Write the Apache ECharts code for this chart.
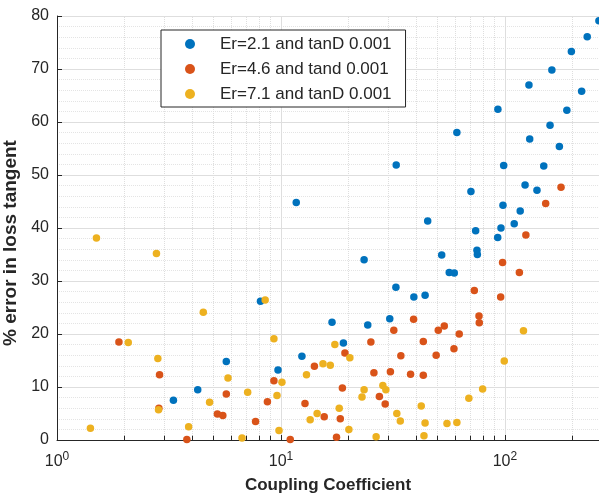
<!DOCTYPE html>
<html>
<head>
<meta charset="utf-8">
<script src="https://cdn.jsdelivr.net/npm/echarts@6/dist/echarts.min.js"></script>
<style>
  html, body { margin: 0; padding: 0; background: #fff; }
  #main { width: 599px; height: 498px; }
</style>
</head>
<body>
<div id="main"></div>
<script>
// [coupling coefficient, % error]
var er21 = [
    [262.8, 79.1], [233, 76.1], [198, 73.3], [162, 69.8], [128, 67.0], [220, 65.8],
    [93, 62.4], [189, 62.2], [159, 59.4], [129, 56.8], [175, 55.4], [61, 58.0],
    [98.7, 51.8], [149, 51.7], [123, 48.1], [70.5, 46.9], [139, 47.1], [98, 44.3],
    [117, 43.2], [45.2, 41.3], [110, 40.8], [96, 40.0], [74, 39.5], [92.8, 38.2],
    [75, 35.8], [75.3, 35.0], [11.7, 44.8], [32.7, 51.9], [23.5, 34.0], [52.2, 34.9],
    [56.4, 31.6], [59.4, 31.5], [32.6, 28.8], [39.2, 27.0], [44, 27.3], [24.4, 21.7],
    [30.6, 22.9], [19.0, 18.3], [16.9, 22.2], [8.1, 26.2], [12.4, 15.8], [5.7, 14.8],
    [9.7, 13.2], [4.25, 9.5], [3.31, 7.5]
];
var er46 = [
    [178, 47.7], [152, 44.6], [124, 38.7], [97.6, 33.5], [116, 31.6], [73, 28.2],
    [95.7, 27.0], [76.6, 23.4], [76.8, 22.1], [39.1, 22.8], [31.9, 20.7], [50.4, 20.7],
    [53.6, 21.5], [62.5, 20.0], [25.2, 18.5], [43.2, 18.6], [59.2, 17.2], [49.3, 16.0],
    [34.3, 15.9], [19.3, 16.4], [26.0, 12.7], [30.8, 12.9], [37.9, 12.4], [43.2, 12.2],
    [18.8, 9.8], [27.5, 8.2], [29.2, 6.8], [18.4, 4.0], [17.7, 0.5], [14.1, 13.9],
    [9.3, 11.2], [5.7, 8.7], [8.7, 7.2], [12.8, 6.9], [5.2, 4.9], [5.5, 4.6],
    [15.6, 4.4], [7.7, 3.5], [11.0, 0.1], [1.89, 18.5], [2.87, 12.3], [2.85, 6.0],
    [3.8, 0.1]
];
var er71 = [
    [121, 20.6], [99.3, 14.9], [79.5, 9.6], [69, 7.9], [20.3, 15.5], [23.5, 9.5],
    [23.0, 8.1], [28.5, 10.3], [29.4, 9.5], [42.3, 6.4], [18.2, 6.0], [32.9, 5.0],
    [34.1, 3.6], [44, 3.2], [55.1, 3.1], [61, 3.3], [20.1, 2.0], [26.6, 0.6],
    [43.5, 0.8], [4.5, 24.1], [8.5, 26.4], [9.3, 19.1], [17.4, 18.0], [15.4, 14.4],
    [16.6, 14.1], [13.0, 12.3], [5.8, 11.7], [10.1, 10.9], [7.1, 9.0], [9.6, 8.4],
    [4.8, 7.1], [14.5, 5.0], [13.5, 3.8], [9.8, 1.8], [6.7, 0.4], [1.5, 38.1],
    [2.78, 35.2], [2.08, 18.4], [2.82, 15.4], [2.84, 5.7], [1.41, 2.2], [3.87, 2.5]
];
var seriesNames = ['Er=2.1 and tanD 0.001', 'Er=4.6 and tand 0.001', 'Er=7.1 and tanD 0.001'];
var xMinorTicks = [2, 3, 4, 5, 6, 7, 8, 9, 20, 30, 40, 50, 60, 70, 80, 90, 200];

var colors = ['#0072BD', '#D95319', '#EDB120'];
var txt = '#262626';
var font = '"Liberation Sans", Arial, sans-serif';

var myChart = echarts.init(document.getElementById('main'));

// dotted minor grid lines and short inner minor ticks on the log axis
var minorGrid = xMinorTicks.map(function (v) {
    return { xAxis: v };
});
var minorTicks = xMinorTicks.map(function (v) {
    return [{ coord: [v, 0] }, { coord: [v, 0.8] }];
});

var option = {
    animation: false,
    backgroundColor: '#fff',
    textStyle: { fontFamily: font },
    color: colors,
    grid: { left: 57, right: 0, top: 16, bottom: 58, containLabel: false, outerBoundsMode: 'none' },
    legend: {
        data: seriesNames,
        orient: 'vertical',
        left: 161,
        top: 30,
        icon: 'circle',
        itemWidth: 10,
        itemHeight: 10,
        itemGap: 7,
        padding: [5, 14, 4, 24],
        backgroundColor: '#fff',
        borderColor: txt,
        borderWidth: 1,
        borderRadius: 0,
        textStyle: { fontSize: 17, color: txt, lineHeight: 18, padding: [0, 0, 0, 20], fontFamily: font }
    },
    xAxis: {
        type: 'log',
        logBase: 10,
        min: 1,
        max: 263,
        name: 'Coupling Coefficient',
        nameLocation: 'middle',
        nameGap: 37,
        nameTextStyle: { fontSize: 17, fontWeight: 'bold', color: txt, fontFamily: font },
        axisLine: { show: true, onZero: false, lineStyle: { color: txt, width: 1 } },
        axisTick: { show: true, inside: true, length: 5, lineStyle: { color: txt } },
        axisLabel: {
            margin: 11,
            showMaxLabel: false,
            formatter: function (v) {
                var e = Math.round(Math.log10(v));
                if (Math.abs(Math.pow(10, e) - v) > 1e-6) return '';
                return '{b|10}{s|' + e + '}';
            },
            rich: {
                b: { fontSize: 16, color: txt, fontFamily: font },
                s: { fontSize: 12, color: txt, fontFamily: font, padding: [0, 0, 9, 0] }
            }
        },
        splitLine: { show: true, lineStyle: { color: '#dedede', width: 1 } }
    },
    yAxis: {
        type: 'value',
        min: 0,
        max: 80,
        interval: 10,
        name: '% error in loss tangent',
        nameLocation: 'middle',
        nameGap: 27,
        nameRotate: 90,
        nameTextStyle: {
            fontSize: 19, fontWeight: 'bold', color: txt, fontFamily: font,
            padding: [0, 30, 0, 0]
        },
        axisLine: { show: true, lineStyle: { color: txt, width: 1 } },
        axisTick: { show: true, inside: true, length: 5, lineStyle: { color: txt } },
        axisLabel: { fontSize: 16, color: txt, margin: 8, fontFamily: font },
        splitLine: { show: true, lineStyle: { color: '#dedede', width: 1 } },
        minorTick: { show: false, splitNumber: 5 },
        minorSplitLine: { show: true, lineStyle: { color: '#e4e4e4', type: 'dotted', width: 1 } }
    },
    series: [
        {
            name: 'minor',
            type: 'line',
            data: [],
            z: 1,
            silent: true,
            markLine: {
                silent: true,
                z: 1,
                symbol: 'none',
                animation: false,
                label: { show: false },
                lineStyle: { color: '#dedede', type: 'dotted', width: 1 },
                data: minorGrid
            }
        },
        {
            name: 'minorTicks',
            type: 'line',
            data: [],
            z: 1,
            silent: true,
            markLine: {
                silent: true,
                z: 1,
                symbol: 'none',
                animation: false,
                label: { show: false },
                lineStyle: { color: txt, type: 'solid', width: 1 },
                data: minorTicks
            }
        },
        {
            name: seriesNames[0],
            type: 'scatter',
            symbolSize: 7.5,
            z: 3,
            itemStyle: { color: colors[0], opacity: 1 },
            data: er21
        },
        {
            name: seriesNames[1],
            type: 'scatter',
            symbolSize: 7.5,
            z: 3,
            itemStyle: { color: colors[1], opacity: 1 },
            data: er46
        },
        {
            name: seriesNames[2],
            type: 'scatter',
            symbolSize: 7.5,
            z: 3,
            itemStyle: { color: colors[2], opacity: 1 },
            data: er71
        }
    ]
};

myChart.setOption(option);
</script>
</body>
</html>
